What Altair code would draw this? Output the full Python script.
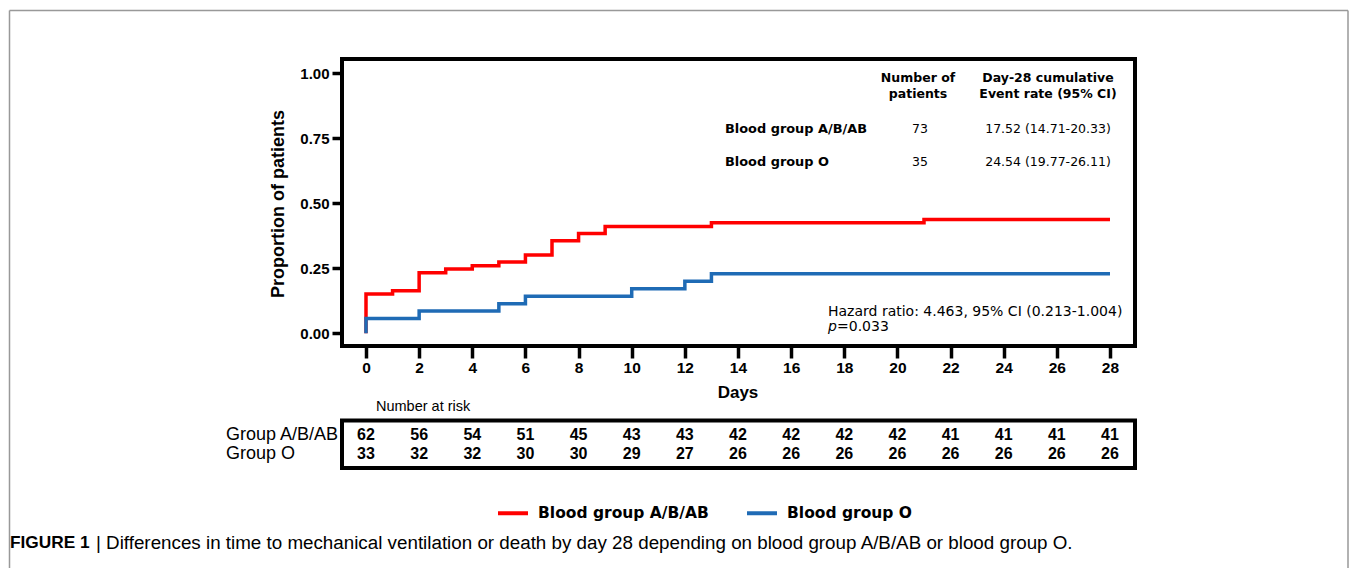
import altair as alt
import pandas as pd

# ---------------- data ----------------
groups = ["Blood group A/B/AB", "Blood group O"]
red_days = [0, 0, 1, 2, 3, 4, 5, 6, 7, 8, 9, 13, 21, 28]
red_prop = [0.0, 0.151, 0.164, 0.233, 0.247, 0.260, 0.274, 0.301, 0.356, 0.384, 0.411, 0.425, 0.438, 0.438]
blue_days = [0, 0, 2, 5, 6, 10, 12, 13, 28]
blue_prop = [0.0, 0.057, 0.086, 0.114, 0.143, 0.171, 0.200, 0.229, 0.229]

risk_days = [0, 2, 4, 6, 8, 10, 12, 14, 16, 18, 20, 22, 24, 26, 28]
risk_abab = [62, 56, 54, 51, 45, 43, 43, 42, 42, 42, 42, 41, 41, 41, 41]
risk_o = [33, 32, 32, 30, 30, 29, 27, 26, 26, 26, 26, 26, 26, 26, 26]

y_ticks = [0.0, 0.25, 0.5, 0.75, 1.0]
x_ticks = list(range(0, 29, 2))

inset_n = ["73", "35"]
inset_rate = ["17.52 (14.71-20.33)", "24.54 (19.77-26.11)"]

RED = "#ff0000"
BLUE = "#1f6bb5"
ARIAL = "Liberation Sans"
VERD = "DejaVu Sans"

curve = pd.DataFrame({
    "day": red_days + blue_days,
    "prop": red_prop + blue_prop,
    "group": [groups[0]] * len(red_days) + [groups[1]] * len(blue_days),
    "idx": list(range(len(red_days))) + list(range(len(blue_days))),
})

W, H = 793, 287
xscale = alt.Scale(domain=[-0.9032, 28.941], nice=False, zero=False)
yscale = alt.Scale(domain=[-0.0488, 1.055], nice=False, zero=False)

xaxis = alt.Axis(values=x_ticks, format="d", title=None, grid=False, domain=False,
                 tickColor="black", tickWidth=3.5, tickSize=12, labelPadding=2,
                 labelFont=ARIAL, labelFontWeight="bold", labelFontSize=15.5,
                 labelColor="black")

lines = alt.Chart(curve).mark_line(interpolate="step-after", strokeWidth=3.5, strokeCap="butt").encode(
    x=alt.X("day:Q", scale=xscale, axis=xaxis),
    y=alt.Y("prop:Q", scale=yscale,
            axis=alt.Axis(values=y_ticks, format=".2f", title=None, grid=False, domain=False,
                          tickColor="black", tickWidth=3.5, tickSize=10, labelPadding=3,
                          labelFont=ARIAL, labelFontWeight="bold", labelFontSize=15,
                          labelColor="black")),
    color=alt.Color("group:N", scale=alt.Scale(domain=groups, range=[RED, BLUE]),
                    legend=alt.Legend(orient="none", legendX=154, legendY=437, direction="horizontal",
                                      title=None, symbolType="stroke", symbolStrokeWidth=4,
                                      symbolSize=900, labelFont=VERD, labelFontWeight="bold",
                                      labelFontSize=15.5, labelColor="black", labelOffset=8,
                                      columnPadding=30, padding=0, labelLimit=400)),
    order=alt.Order("idx:Q"),
)


def txt(s, x, y, size, weight="normal", font=ARIAL, align="left", angle=0, style="normal", color="black"):
    kw = dict(fontSize=size, fontWeight=weight, font=font, align=align, baseline="middle",
              fontStyle=style, color=color)
    if angle:
        kw["angle"] = angle
    return alt.Chart(pd.DataFrame({"t": [s]})).mark_text(**kw).encode(
        x=alt.value(x), y=alt.value(y), text="t:N")


layers = [lines]

# inset table
layers += [
    txt("Number of", 576, 18.5, 12.5, "bold", VERD, "center"),
    txt("patients", 576, 35, 12.5, "bold", VERD, "center"),
    txt("Day-28 cumulative", 706, 18.5, 12.5, "bold", VERD, "center"),
    txt("Event rate (95% CI)", 706, 35, 12.5, "bold", VERD, "center"),
    txt(groups[0], 383, 70, 12.9, "bold", VERD, "left"),
    txt(groups[1], 383, 103, 12.9, "bold", VERD, "left"),
    txt(inset_n[0], 578, 70, 12.5, "normal", VERD, "center"),
    txt(inset_n[1], 578, 103, 12.5, "normal", VERD, "center"),
    txt(inset_rate[0], 706, 70, 12.5, "normal", VERD, "center"),
    txt(inset_rate[1], 706, 103, 12.5, "normal", VERD, "center"),
    txt("Hazard ratio: 4.463, 95% CI (0.213-1.004)", 486, 252.5, 14, "normal", VERD, "left"),
    txt("p", 486, 268, 14, "normal", VERD, "left", style="italic"),
    txt("=0.033", 495, 268, 14, "normal", VERD, "left"),
]

# axis titles
layers += [
    txt("Proportion of patients", -63, 145, 18, "bold", ARIAL, "center", angle=270),
    txt("Days", 396, 334, 17, "bold", ARIAL, "center"),
]

# number at risk
layers.append(txt("Number at risk", 34, 348, 14.5, "normal", ARIAL, "left"))
box = alt.Chart(pd.DataFrame({"a": [0]})).mark_rect(fill=None, stroke="black", strokeWidth=4).encode(
    x=alt.value(0), x2=alt.value(W), y=alt.value(361.5), y2=alt.value(409))
layers.append(box)
layers += [
    txt("Group A/B/AB", -116, 376, 18, "normal", ARIAL, "left"),
    txt("Group O", -116, 395, 18, "normal", ARIAL, "left"),
]
for counts, yv in [(risk_abab, 376), (risk_o, 395)]:
    df = pd.DataFrame({"day": risk_days, "n": counts})
    layers.append(alt.Chart(df).mark_text(font=ARIAL, fontWeight="bold", fontSize=16,
                                          baseline="middle", align="center", color="black").encode(
        x=alt.X("day:Q", scale=xscale, axis=xaxis), y=alt.value(yv), text="n:N"))

# caption
layers += [
    txt("FIGURE 1", -332, 484, 17.3, "bold", ARIAL, "left"),
    txt("| Differences in time to mechanical ventilation or death by day 28 depending on blood group A/B/AB or blood group O.",
        -246, 484, 18.8, "normal", ARIAL, "left"),
]

# outer grey frame
frame_df = pd.DataFrame({"a": [0]})
RIGHT = 1006
layers += [
    alt.Chart(frame_df).mark_rule(color="#999999", strokeWidth=1.5).encode(
        x=alt.value(-332.5), x2=alt.value(-332.5), y=alt.value(-48.5), y2=alt.value(520)),
    alt.Chart(frame_df).mark_rule(color="#999999", strokeWidth=1.5).encode(
        x=alt.value(RIGHT), x2=alt.value(RIGHT), y=alt.value(-48.5), y2=alt.value(520)),
    alt.Chart(frame_df).mark_rule(color="#999999", strokeWidth=1.5).encode(
        x=alt.value(-332.5), x2=alt.value(RIGHT), y=alt.value(-48.5), y2=alt.value(-48.5)),
]

chart = alt.layer(*layers).properties(
    width=W, height=H,
    autosize=alt.AutoSizeParams(type="none"),
    padding={"left": 334, "top": 51, "right": 214, "bottom": 222},
    background="white",
).configure_view(stroke="black", strokeWidth=4)

chart.save("out.html", embed_options={"renderer": "svg", "actions": False})
